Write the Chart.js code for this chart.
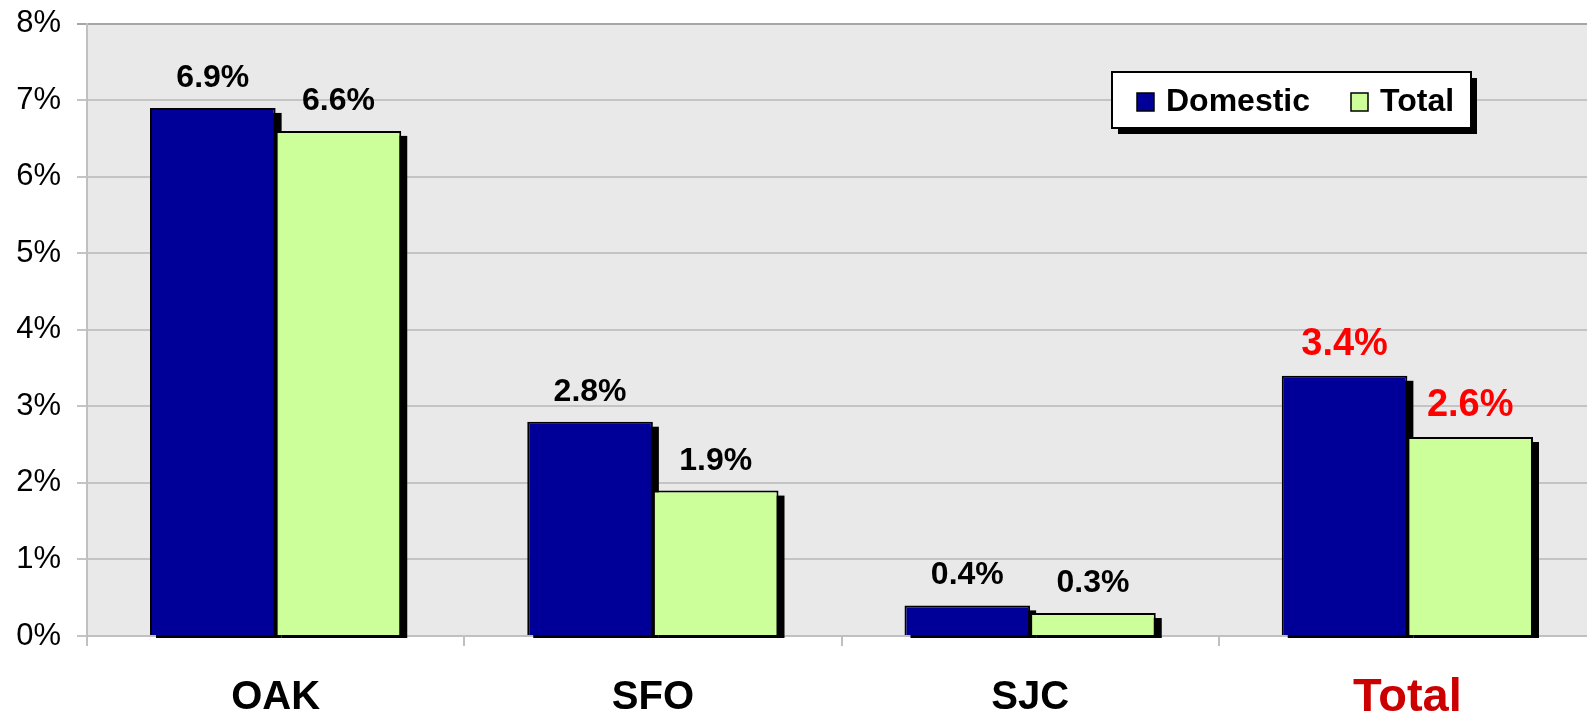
<!DOCTYPE html>
<html>
<head>
<meta charset="utf-8">
<script src="https://cdn.jsdelivr.net/npm/chart.js@4/dist/chart.umd.min.js"></script>
<style>
  html, body { margin: 0; padding: 0; background: #fff; overflow: hidden; }
  #wrap { width: 1596px; height: 716px; }
</style>
</head>
<body>
<div id="wrap"><canvas id="chart" width="1596" height="716"></canvas></div>
<script>
// values in percent
let airports = ['OAK', 'SFO', 'SJC', 'Total'];
let domesticGrowth = [6.9, 2.8, 0.4, 3.4];
let totalGrowth = [6.6, 1.9, 0.3, 2.6];
let yTicks = [0, 1, 2, 3, 4, 5, 6, 7, 8];

const FONT = '"Liberation Sans", Arial, Helvetica, sans-serif';
const isTotal = i => airports[i] === 'Total';

// grey plot background
const plotBackground = {
    id: 'plotBackground',
    beforeDraw(chart) {
        const a = chart.chartArea;
        const c = chart.ctx;
        c.save();
        c.fillStyle = '#E9E9E9';
        c.fillRect(a.left, a.top, chart.width - a.left, a.bottom - a.top);
        c.restore();
    }
};

// black drop shadow behind every bar
const barShadow = {
    id: 'barShadow',
    beforeDatasetsDraw(chart) {
        const c = chart.ctx;
        const bottom = chart.chartArea.bottom + 2;
        c.save();
        c.fillStyle = '#000';
        chart.data.datasets.forEach((ds, di) => {
            chart.getDatasetMeta(di).data.forEach(bar => {
                let left = bar.x - bar.width / 2 + 6;
                let top = bar.y + 5;
                c.fillRect(left, top, bar.width, bottom - top);
            });
        });
        c.restore();
    }
};

// value labels above bars
const valueLabels = {
    id: 'valueLabels',
    afterDatasetsDraw(chart) {
        const c = chart.ctx;
        c.save();
        c.textAlign = 'center';
        c.textBaseline = 'alphabetic';
        chart.data.datasets.forEach((ds, di) => {
            chart.getDatasetMeta(di).data.forEach((bar, i) => {
                if (isTotal(i)) {
                    c.fillStyle = '#FF0000';
                    c.font = 'bold 38px ' + FONT;
                } else {
                    c.fillStyle = '#000';
                    c.font = 'bold 32px ' + FONT;
                }
                c.fillText(ds.data[i].toFixed(1) + '%', bar.x, bar.y - 21);
            });
        });
        c.restore();
    }
};

// boxed legend with shadow, inside the plot
const boxLegend = {
    id: 'boxLegend',
    afterDraw(chart) {
        const c = chart.ctx;
        const x = 1112, y = 72, w = 359, h = 56;
        c.save();
        c.fillStyle = '#000';
        c.fillRect(x + 6, y + 6, w, h);
        c.fillStyle = '#fff';
        c.fillRect(x, y, w, h);
        c.strokeStyle = '#000';
        c.lineWidth = 2;
        c.strokeRect(x, y, w, h);
        c.font = 'bold 32px ' + FONT;
        c.textBaseline = 'middle';
        c.textAlign = 'left';
        let itemX = [1137, 1351];
        chart.data.datasets.forEach((ds, di) => {
            let mx = itemX[di];
            c.fillStyle = ds.backgroundColor;
            c.fillRect(mx, 93, 17, 18);
            c.lineWidth = 1.5;
            c.strokeStyle = '#000';
            c.strokeRect(mx, 93, 17, 18);
            c.fillStyle = '#000';
            c.fillText(ds.label, mx + 29, 102);
        });
        c.restore();
    }
};

let chart = new Chart(document.getElementById('chart').getContext('2d'), {
    type: 'bar',
    data: {
        labels: airports,
        datasets: [
            {
                label: 'Domestic',
                data: domesticGrowth,
                backgroundColor: '#000099',
                borderColor: '#000',
                borderWidth: 2,
                categoryPercentage: 0.666,
                barPercentage: 1
            },
            {
                label: 'Total',
                data: totalGrowth,
                backgroundColor: '#CCFF99',
                borderColor: '#000',
                borderWidth: 2,
                categoryPercentage: 0.666,
                barPercentage: 1
            }
        ]
    },
    options: {
        responsive: false,
        animation: false,
        devicePixelRatio: 1,
        layout: { padding: { top: 0, left: 0, right: 0, bottom: 0 } },
        plugins: {
            legend: { display: false },
            tooltip: { enabled: false }
        },
        scales: {
            x: {
                offset: true,
                grid: {
                    drawOnChartArea: false,
                    drawTicks: true,
                    tickLength: 10,
                    color: '#C0C0C0',
                    lineWidth: 2,
                    offset: true
                },
                border: { display: true, color: '#C0C0C0', width: 2 },
                ticks: {
                    padding: 28,
                    color: ctx => isTotal(ctx.index) ? '#CC0000' : '#000',
                    font: ctx => isTotal(ctx.index)
                        ? { family: FONT, weight: 'bold', size: 47, lineHeight: 48 / 47 }
                        : { family: FONT, weight: 'bold', size: 40, lineHeight: 1.2 }
                },
                afterFit(scale) { scale.height = 80; }
            },
            y: {
                min: yTicks[0],
                max: yTicks[yTicks.length - 1],
                afterBuildTicks(scale) { scale.ticks = yTicks.map(v => ({ value: v })); },
                grid: {
                    color: ctx => ctx.tick && ctx.tick.value === 8 ? '#A6A6A6' : '#C4C4C4',
                    lineWidth: 2,
                    tickLength: 10
                },
                border: { display: true, color: '#C0C0C0', width: 2 },
                ticks: {
                    padding: 16,
                    color: '#000',
                    font: { family: FONT, size: 31, lineHeight: 0.5 },
                    callback: v => v + '%'
                },
                afterFit(scale) { scale.width = 87; }
            }
        }
    },
    plugins: [plotBackground, barShadow, valueLabels, boxLegend]
});
</script>
</body>
</html>
